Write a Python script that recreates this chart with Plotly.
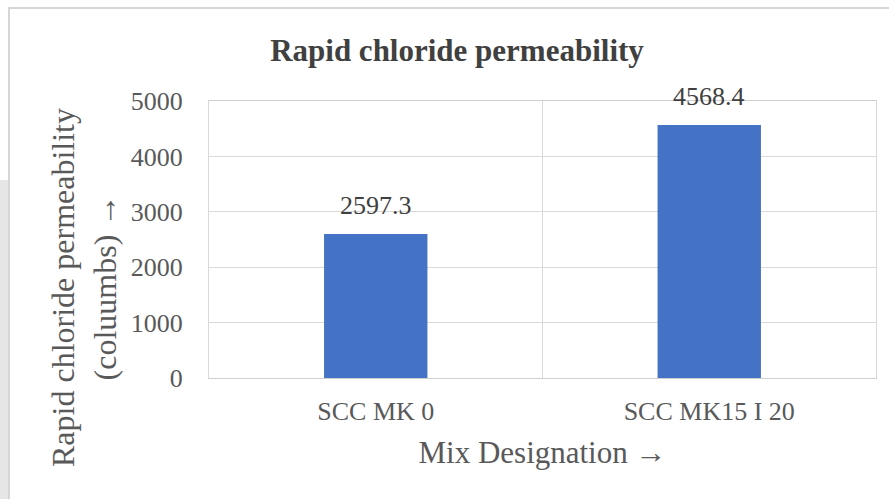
import plotly.graph_objects as go

categories = ["SCC MK 0", "SCC MK15 I 20"]
values = [2597.3, 4568.4]
value_labels = ["2597.3", "4568.4"]
y_ticks = [0, 1000, 2000, 3000, 4000, 5000]

FONT = "Liberation Serif, Times New Roman, serif"
W, H = 889, 499
L, R, T, B = 209, 13, 101, 121

fig = go.Figure()
fig.add_trace(go.Bar(
    x=categories, y=values,
    marker=dict(color="#4472C4", line=dict(width=0)),
    width=0.31,
))

# data labels above bars
for c, v, s in zip(categories, values, value_labels):
    fig.add_annotation(x=c, y=v, text=s, showarrow=False, yanchor="bottom", yshift=12,
                       font=dict(family=FONT, size=26, color="#404040"))

pw, ph = W - L - R, H - T - B
def px_x(v):
    return (v - L) / pw
def px_y(v):
    return (H - B - v) / ph

# y-axis title (two lines, rotated)
fig.add_annotation(xref="paper", yref="paper", x=px_x(84), y=px_y(288),
                   text="Rapid chloride permeability<br>(coluumbs) →", showarrow=False,
                   textangle=-90, xanchor="center", yanchor="middle",
                   font=dict(family=FONT, size=32, color="#595959"))

# outer chart frame
fig.add_shape(type="rect", xref="paper", yref="paper",
              x0=px_x(9), x1=px_x(900), y0=px_y(505), y1=px_y(8),
              line=dict(color="#d6d6d6", width=2), fillcolor="rgba(0,0,0,0)", layer="below")
fig.add_shape(type="rect", xref="paper", yref="paper",
              x0=px_x(0), x1=px_x(8), y0=px_y(505), y1=px_y(180),
              line=dict(width=0), fillcolor="#e6e6e6", layer="below")

fig.update_layout(
    width=W, height=H,
    margin=dict(l=L, r=R, t=T, b=B, autoexpand=False),
    paper_bgcolor="white", plot_bgcolor="white",
    showlegend=False,
    font=dict(family=FONT, color="#595959"),
    title=dict(text="<b>Rapid chloride permeability</b>", x=457 / W, xanchor="center",
               y=1 - 50 / H, yanchor="middle", font=dict(family=FONT, size=31, color="#404040")),
    xaxis=dict(
        type="category", tickson="boundaries", showgrid=True, gridcolor="#d9d9d9", gridwidth=1,
        showline=True, linecolor="#cfcfcf", linewidth=1, mirror=True, ticks="",
        ticklabelstandoff=10,
        tickfont=dict(family=FONT, size=26, color="#595959"),
        title=dict(text="Mix Designation →", font=dict(family=FONT, size=31, color="#595959"), standoff=16),
        automargin=False,
    ),
    yaxis=dict(
        range=[0, 5000], tickvals=y_ticks, showgrid=True, gridcolor="#d9d9d9", gridwidth=1,
        zeroline=False, showline=True, linecolor="#d9d9d9", mirror=True, ticks="",
        ticklabelstandoff=20,
        tickfont=dict(family=FONT, size=26, color="#595959"),
        automargin=False,
    ),
)

fig.write_html("out.html")
